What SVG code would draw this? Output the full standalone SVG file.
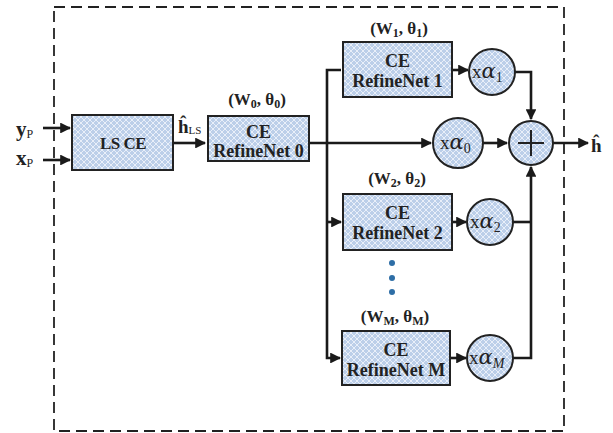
<svg xmlns="http://www.w3.org/2000/svg" width="613" height="433" viewBox="0 0 613 433">
<defs>
<pattern id="hatch" width="6" height="6" patternUnits="userSpaceOnUse">
<rect width="6" height="6" fill="#bccfe9"/>
<path d="M0,0 L6,6 M6,0 L0,6" stroke="#eef3fa" stroke-width="0.9"/>
</pattern>
<marker id="arr" viewBox="0 0 10 10" refX="9" refY="5" markerWidth="4.2" markerHeight="4.2" orient="auto" markerUnits="strokeWidth">
<path d="M0,0 L10,5 L0,10 z" fill="#1a1a1a"/>
</marker>
</defs>
<style>
.box{fill:url(#hatch);stroke:#222;stroke-width:2}
.ln{fill:none;stroke:#1a1a1a;stroke-width:2.6}
.t{font-family:"Liberation Serif",serif;font-weight:bold;fill:#222;text-anchor:middle}
.lbl{font-family:"Liberation Serif",serif;font-weight:bold;fill:#222}
.g{font-family:"Liberation Serif",serif;fill:#222}
.a{font-family:"DejaVu Serif",serif;font-style:italic;font-size:21px}
.s{font-family:"Liberation Serif",serif;font-size:14px}
</style>
<rect x="54" y="7" width="510" height="424" fill="none" stroke="#222" stroke-width="1.8" stroke-dasharray="11,6"/>

<g id="connectors">
<path class="ln" d="M43,128 H70" marker-end="url(#arr)"/>
<path class="ln" d="M43,160 H70" marker-end="url(#arr)"/>
<path class="ln" d="M173,143 H205" marker-end="url(#arr)"/>
<path class="ln" d="M309,143 H431" marker-end="url(#arr)"/>
<path class="ln" d="M341,70 H327 V358 H340" marker-end="url(#arr)"/>
<path class="ln" d="M327,222 H341" marker-end="url(#arr)"/>
<path class="ln" d="M452,70 H468" marker-end="url(#arr)"/>
<path class="ln" d="M452,222 H466" marker-end="url(#arr)"/>
<path class="ln" d="M450,358 H466" marker-end="url(#arr)"/>
<path class="ln" d="M483,143 H507" marker-end="url(#arr)"/>
<path class="ln" d="M515,72 H531 V119" marker-end="url(#arr)"/>
<path class="ln" d="M513,222 H531"/>
<path class="ln" d="M513,358 H531 V167" marker-end="url(#arr)"/>
<path class="ln" d="M553,143 H588" marker-end="url(#arr)"/>
</g>

<g id="inputs">
<text class="lbl" x="16" y="136" font-size="21">y<tspan font-size="12" font-weight="normal" dy="2">P</tspan></text>
<text class="lbl" x="16" y="165" font-size="21">x<tspan font-size="12" font-weight="normal" dy="2">P</tspan></text>
</g>

<g id="lsce">
<rect class="box" x="72" y="115" width="101" height="55"/>
<text class="t" x="123" y="149" font-size="17" letter-spacing="-0.5">LS CE</text>
</g>
<text class="lbl" x="178" y="133" font-size="19">ĥ<tspan font-size="11" font-weight="normal" dy="1">LS</tspan></text>

<g id="refinenet0">
<rect class="box" x="208" y="116" width="101" height="45"/>
<text class="t" x="258.5" y="138" font-size="18">CE</text>
<text class="t" x="258.5" y="157" font-size="18">RefineNet 0</text>
<text class="t" x="257" y="105" font-size="17">(W<tspan font-size="12" dy="3">0</tspan><tspan dy="-3">, θ</tspan><tspan font-size="12" dy="3">0</tspan><tspan dy="-3">)</tspan></text>
</g>

<g id="refinenet1">
<rect class="box" x="343" y="42" width="109" height="55"/>
<text class="t" x="397.5" y="67" font-size="18">CE</text>
<text class="t" x="397.5" y="87" font-size="18">RefineNet 1</text>
<text class="t" x="399" y="34" font-size="17">(W<tspan font-size="12" dy="3">1</tspan><tspan dy="-3">, θ</tspan><tspan font-size="12" dy="3">1</tspan><tspan dy="-3">)</tspan></text>
</g>

<g id="refinenet2">
<rect class="box" x="343" y="194" width="109" height="56"/>
<text class="t" x="397.5" y="219" font-size="18">CE</text>
<text class="t" x="397.5" y="239" font-size="18">RefineNet 2</text>
<text class="t" x="397" y="184" font-size="17">(W<tspan font-size="12" dy="3">2</tspan><tspan dy="-3">, θ</tspan><tspan font-size="12" dy="3">2</tspan><tspan dy="-3">)</tspan></text>
</g>

<g id="dots" fill="#2e6ea6">
<circle cx="392" cy="263" r="3"/>
<circle cx="392" cy="278" r="3"/>
<circle cx="392" cy="292" r="3"/>
</g>

<g id="refinenetM">
<rect class="box" x="342" y="331" width="108" height="54"/>
<text class="t" x="396" y="356" font-size="18">CE</text>
<text class="t" x="396" y="376" font-size="18">RefineNet M</text>
<text class="t" x="395" y="322" font-size="17">(W<tspan font-size="12" dy="3">M</tspan><tspan dy="-3">, θ</tspan><tspan font-size="12" dy="3">M</tspan><tspan dy="-3">)</tspan></text>
</g>

<g id="alpha1">
<circle class="box" cx="492" cy="72" r="23"/>
<text class="g" x="472" y="78" font-size="19">x<tspan class="a">α</tspan><tspan class="s" dy="4">1</tspan></text>
</g>
<g id="alpha0">
<circle class="box" cx="458" cy="143" r="25"/>
<text class="g" x="440" y="149" font-size="19">x<tspan class="a">α</tspan><tspan class="s" dy="4">0</tspan></text>
</g>
<g id="alpha2">
<circle class="box" cx="490" cy="222" r="23"/>
<text class="g" x="470" y="228" font-size="19">x<tspan class="a">α</tspan><tspan class="s" dy="4">2</tspan></text>
</g>
<g id="alphaM">
<circle class="box" cx="490" cy="358" r="23"/>
<text class="g" x="469" y="364" font-size="19">x<tspan class="a">α</tspan><tspan class="s" font-style="italic" font-size="13" dy="4">M</tspan></text>
</g>

<g id="sum">
<circle class="box" cx="531" cy="143" r="22"/>
<path d="M531,130 V156 M518,143 H544" stroke="#222" stroke-width="2"/>
</g>

<text class="lbl" x="591" y="152" font-size="19">ĥ</text>
</svg>
